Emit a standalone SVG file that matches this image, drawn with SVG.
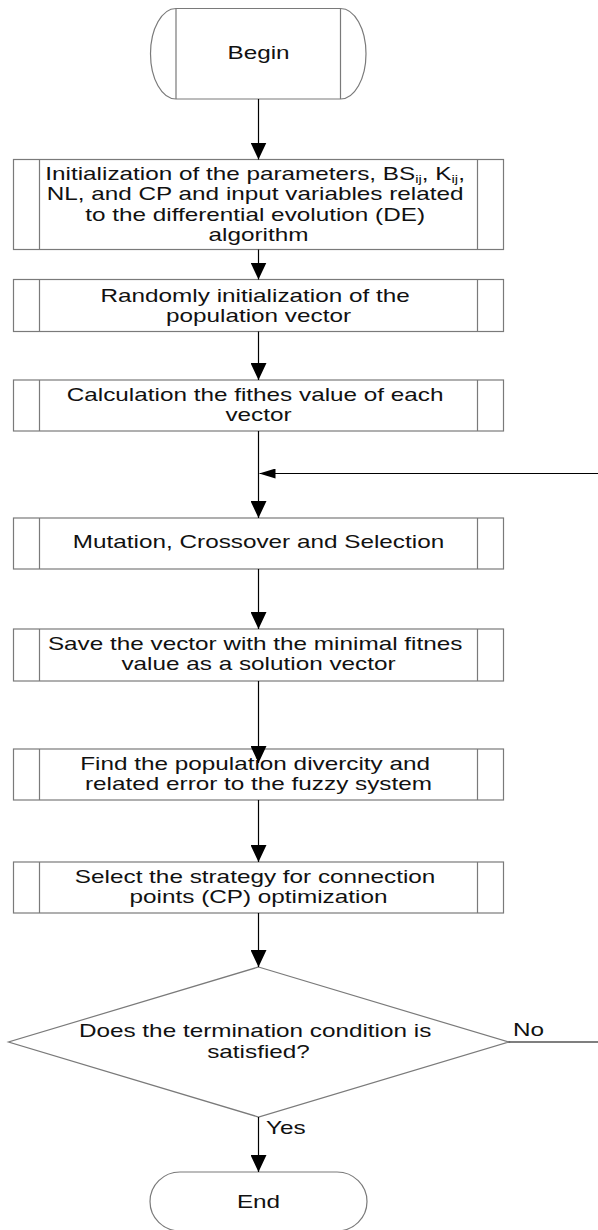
<svg xmlns="http://www.w3.org/2000/svg" width="598" height="1230" viewBox="0 0 598 1230">
<style>
.shape{fill:#fff;stroke:#7a7a7a;stroke-width:1.2}
.inner{fill:none;stroke:#7a7a7a;stroke-width:1.2}
.conn{fill:none;stroke:#000;stroke-width:1.2}
text{font-family:"Liberation Sans",Arial,sans-serif;font-size:18px;fill:#111}
.sub{font-size:11px}
</style>
<defs>
<marker id="ah" markerUnits="userSpaceOnUse" markerWidth="17" markerHeight="16" refX="17" refY="8" orient="auto">
<path d="M0,0 L17,8 L0,16 Z" fill="#000"/>
</marker>
<marker id="ahs" markerUnits="userSpaceOnUse" markerWidth="16" markerHeight="10" refX="16" refY="5" orient="auto">
<path d="M0,0 L16,5 L0,10 Z" fill="#000"/>
</marker>
</defs>

<g id="begin">
<path class="shape" d="M176,8.5 H340.5 A25.5,45.25 0 0 1 340.5,99 H176 A25.5,45.25 0 0 1 176,8.5 Z"/>
<path class="inner" d="M176,8.5 V99 M340.5,8.5 V99"/>
<text transform="translate(258.5 0) scale(1.35 1)" text-anchor="middle" x="0" y="59">Begin</text>
</g>

<g id="init">
<rect class="shape" x="13.5" y="159.5" width="490" height="90"/>
<path class="inner" d="M39.5,159.5 V249.5 M477.5,159.5 V249.5"/>
<text transform="translate(258.5 0) scale(1.35 1)" text-anchor="middle">
<tspan x="0" y="180">Initialization of the parameters, BS<tspan class="sub" dy="3">ij</tspan><tspan dy="-3">, K</tspan><tspan class="sub" dy="3">ij</tspan><tspan dy="-3">,</tspan></tspan>
<tspan x="0" y="200.5">NL, and CP and input variables related</tspan>
<tspan x="0" y="221">to the differential evolution (DE)</tspan>
<tspan x="0" y="241">algorithm</tspan>
</text>
</g>

<g id="random">
<rect class="shape" x="13.5" y="279.5" width="490" height="52"/>
<path class="inner" d="M39.5,279.5 V331.5 M477.5,279.5 V331.5"/>
<text transform="translate(258.5 0) scale(1.35 1)" text-anchor="middle">
<tspan x="0" y="302">Randomly initialization of the</tspan>
<tspan x="0" y="322">population vector</tspan>
</text>
</g>

<g id="fitness">
<rect class="shape" x="13.5" y="380" width="490" height="51"/>
<path class="inner" d="M39.5,380 V431 M477.5,380 V431"/>
<text transform="translate(258.5 0) scale(1.35 1)" text-anchor="middle">
<tspan x="0" y="401.5">Calculation the fithes value of each</tspan>
<tspan x="0" y="421.5">vector</tspan>
</text>
</g>

<g id="mutation">
<rect class="shape" x="13.5" y="518" width="490" height="51"/>
<path class="inner" d="M39.5,518 V569 M477.5,518 V569"/>
<text transform="translate(258.5 0) scale(1.35 1)" text-anchor="middle" x="0" y="548">Mutation, Crossover and Selection</text>
</g>

<g id="save">
<rect class="shape" x="13.5" y="629" width="490" height="52"/>
<path class="inner" d="M39.5,629 V681 M477.5,629 V681"/>
<text transform="translate(258.5 0) scale(1.35 1)" text-anchor="middle">
<tspan x="0" y="650.5">Save the vector with the minimal fitnes</tspan>
<tspan x="0" y="670.5">value as a solution vector</tspan>
</text>
</g>

<g id="diversity">
<rect class="shape" x="13.5" y="749" width="490" height="51"/>
<path class="inner" d="M39.5,749 V800 M477.5,749 V800"/>
<text transform="translate(258.5 0) scale(1.35 1)" text-anchor="middle">
<tspan x="0" y="770">Find the population divercity and</tspan>
<tspan x="0" y="790">related error to the fuzzy system</tspan>
</text>
</g>

<g id="strategy">
<rect class="shape" x="13.5" y="862" width="490" height="51"/>
<path class="inner" d="M39.5,862 V913 M477.5,862 V913"/>
<text transform="translate(258.5 0) scale(1.35 1)" text-anchor="middle">
<tspan x="0" y="883">Select the strategy for connection</tspan>
<tspan x="0" y="903">points (CP) optimization</tspan>
</text>
</g>

<g id="decision">
<polygon class="shape" points="258.5,967 508.5,1042 258.5,1117 8.5,1042"/>
<text transform="translate(258.5 0) scale(1.35 1)" text-anchor="middle">
<tspan x="0" y="1037.5">Does the termination condition is</tspan>
<tspan x="0" y="1058">satisfied?</tspan>
</text>
</g>

<g id="end">
<path class="shape" d="M180,1172 H337 A30,29.5 0 0 1 337,1231 H180 A30,29.5 0 0 1 180,1172 Z"/>
<text transform="translate(258.5 0) scale(1.35 1)" text-anchor="middle" x="0" y="1208">End</text>
</g>

<g id="connectors">
<line class="conn" x1="258.5" y1="99" x2="258.5" y2="159.5" marker-end="url(#ah)"/>
<line class="conn" x1="258.5" y1="249.5" x2="258.5" y2="279.5" marker-end="url(#ah)"/>
<line class="conn" x1="258.5" y1="331.5" x2="258.5" y2="380" marker-end="url(#ah)"/>
<line class="conn" x1="258.5" y1="431" x2="258.5" y2="518" marker-end="url(#ah)"/>
<line class="conn" x1="258.5" y1="569" x2="258.5" y2="629" marker-end="url(#ah)"/>
<line class="conn" x1="258.5" y1="681" x2="258.5" y2="763" marker-end="url(#ah)"/>
<line class="conn" x1="258.5" y1="800" x2="258.5" y2="862" marker-end="url(#ah)"/>
<line class="conn" x1="258.5" y1="913" x2="258.5" y2="967" marker-end="url(#ah)"/>
<line class="conn" x1="258.5" y1="1117" x2="258.5" y2="1172" marker-end="url(#ah)"/>
<path class="conn" d="M508.5,1042 H612 V473.5 H259.5" marker-end="url(#ahs)"/>
<text transform="translate(513 0) scale(1.35 1)" x="0" y="1036">No</text>
<text transform="translate(266 0) scale(1.35 1)" x="0" y="1134">Yes</text>
</g>
</svg>
